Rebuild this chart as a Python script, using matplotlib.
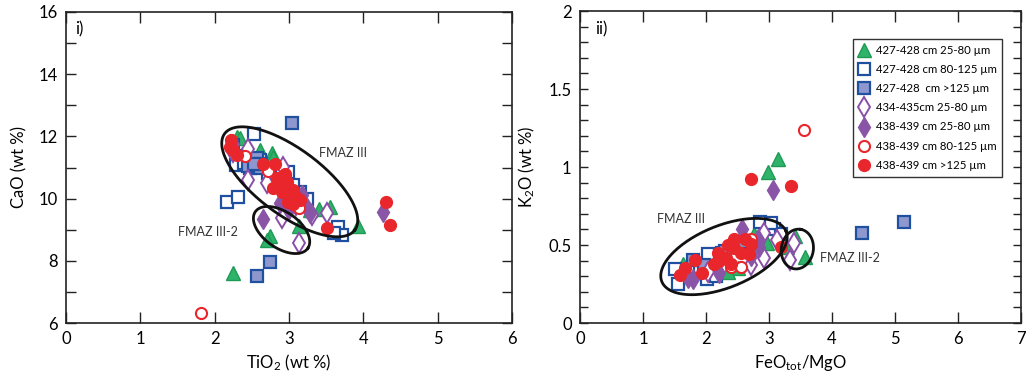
import matplotlib
matplotlib.use("Agg")
import matplotlib.pyplot as plt
import numpy as np
from matplotlib.ticker import FixedLocator, MultipleLocator, FuncFormatter

plt.rcParams['font.family'] = ['Lato', 'DejaVu Sans']
plt.rcParams['mathtext.default'] = 'regular'

# series labels (same order in both panels)
labels = ["427-428 cm 25-80 µm", "427-428 cm 80-125 µm", "427-428  cm >125 µm",
          "434-435cm 25-80 µm", "438-439 cm 25-80 µm", "438-439 cm 80-125 µm",
          "438-439 cm >125 µm"]

# panel i) TiO2 vs CaO
tio2_g = [2.25, 2.74, 2.71, 3.13, 3.93, 3.55, 3.40, 3.28, 2.30, 2.61, 2.77, 2.79, 3.04, 2.72, 3.00, 3.20, 2.34]
cao_g = [7.60, 8.80, 8.68, 9.12, 9.12, 9.72, 9.66, 9.62, 11.99, 11.56, 11.46, 11.33, 10.56, 10.97, 10.10, 10.00, 11.94]
tio2_bo = [2.16, 2.32, 2.53, 3.66, 3.71, 3.60, 2.25, 2.29, 2.42, 2.61, 2.75, 2.99, 3.15, 3.24, 2.40, 3.05, 2.72]
cao_bo = [9.90, 10.06, 12.08, 9.10, 8.83, 8.88, 11.72, 11.08, 11.37, 11.24, 10.76, 10.86, 10.22, 10.00, 11.15, 10.45, 10.81]
tio2_bf = [2.57, 2.75, 3.04, 2.57, 2.48, 2.57, 2.62, 2.45, 2.53]
cao_bf = [7.51, 7.95, 12.44, 11.29, 10.97, 10.97, 11.10, 11.05, 11.12]
tio2_po = [2.90, 3.13, 3.51, 3.31, 2.45, 2.45, 2.25, 2.92, 3.10, 2.70]
cao_po = [9.37, 8.58, 9.53, 9.47, 11.61, 10.60, 11.50, 11.03, 9.80, 10.50]
tio2_pf = [2.65, 4.27, 2.88, 3.24, 3.28, 3.18, 2.24, 3.00]
cao_pf = [9.33, 9.58, 9.85, 9.70, 9.55, 10.10, 11.77, 9.65]
tio2_ro = [1.81, 2.41, 2.72, 3.13, 2.95]
cao_ro = [6.31, 11.37, 10.90, 9.69, 10.80]
tio2_rf = [4.31, 4.36, 3.51, 2.22, 2.21, 2.30, 2.65, 2.81, 2.84, 2.95, 2.79, 2.88, 2.97, 3.06, 3.10,
           2.99, 3.06, 3.15, 3.04, 2.25, 2.90]
cao_rf = [9.88, 9.15, 9.04, 11.88, 11.67, 11.40, 11.10, 11.10, 10.65, 10.76, 10.33, 10.38, 10.54, 10.28, 10.06,
          9.90, 9.84, 9.95, 10.17, 11.55, 10.20]

# panel ii) FeOtot/MgO vs K2O
fm_g = [3.15, 2.99, 3.42, 3.57, 3.28, 1.64, 2.50, 3.00, 2.97, 2.76, 2.35]
k2o_g = [1.05, 0.97, 0.555, 0.42, 0.49, 0.38, 0.35, 0.62, 0.51, 0.57, 0.33]
fm_bo = [1.51, 1.56, 2.01, 2.16, 2.03, 2.86, 3.08, 3.19, 3.03, 2.25, 1.90]
k2o_bo = [0.345, 0.25, 0.28, 0.30, 0.44, 0.645, 0.60, 0.57, 0.64, 0.45, 0.35]
fm_bf = [4.47, 5.14, 1.80, 1.97, 2.30, 2.59]
k2o_bf = [0.58, 0.65, 0.405, 0.37, 0.46, 0.52]
fm_po = [2.92, 3.13, 3.39, 3.34, 2.92, 2.71, 2.03]
k2o_po = [0.58, 0.53, 0.51, 0.405, 0.415, 0.37, 0.33]
fm_pf = [3.06, 2.57, 1.80, 1.72, 2.84, 2.82, 2.71, 2.20]
k2o_pf = [0.855, 0.60, 0.28, 0.29, 0.49, 0.54, 0.43, 0.32]
fm_ro = [3.56, 2.40, 2.71, 2.56]
k2o_ro = [1.24, 0.36, 0.54, 0.36]
fm_rf = [2.71, 3.35, 1.59, 1.67, 1.82, 1.93, 2.13, 2.19, 2.32, 2.45, 2.56, 2.69, 2.40, 2.62, 2.45, 2.71,
         3.19, 2.20, 2.35]
k2o_rf = [0.92, 0.88, 0.31, 0.35, 0.405, 0.32, 0.38, 0.45, 0.415, 0.48, 0.45, 0.44, 0.38, 0.54, 0.54, 0.505,
          0.49, 0.40, 0.50]

# marker styles: (marker, size, face, edge, edge width)
styles = [
    ("^", 9.5, "#2fb36b", "#1f9a55", 1.0),
    ("s", 8.0, "white", "#1f4fa0", 1.6),
    ("s", 8.0, "#8e98cf", "#2050a0", 1.6),
    ("d", 10.0, "white", "#8a4ea8", 1.4),
    ("d", 10.0, "#8a55a6", "#8a55a6", 1.0),
    ("o", 8.0, "white", "#e8262b", 1.5),
    ("o", 8.5, "#e8262b", "#e8262b", 1.0),
]

# ellipses: centre (data), semi axes (px), angle (deg)
ell_i = [(3.01, 10.54, 81, 33, -36.5), (2.90, 8.99, 32, 18, -35)]
ell_ii = [(2.285, 0.426, 67, 31, 22), (3.45, 0.474, 20, 16, 80)]

W, H = 1027, 378
fig = plt.figure(figsize=(W / 100, H / 100), dpi=100)
ax1 = fig.add_axes([66 / W, 1 - 323 / H, 446 / W, 311 / H])
ax2 = fig.add_axes([580 / W, 1 - 323 / H, 441 / W, 312 / H])


def draw_ellipse(ax, cx, cy, a, b, ang):
    x0, x1 = ax.get_xlim()
    y0, y1 = ax.get_ylim()
    pos = ax.get_position()
    sx = pos.width * W / (x1 - x0)
    sy = pos.height * H / (y1 - y0)
    t = np.linspace(0, 2 * np.pi, 200)
    r = np.radians(ang)
    dx = a * np.cos(t) * np.cos(r) - b * np.sin(t) * np.sin(r)
    dy = a * np.cos(t) * np.sin(r) + b * np.sin(t) * np.cos(r)
    ax.plot(cx + dx / sx, cy + dy / sy, color="#111111", lw=2.0, zorder=5)


def style_axes(ax):
    for s in ax.spines.values():
        s.set_linewidth(1.2)
        s.set_color("#222222")
    ax.tick_params(which="both", direction="in", top=True, right=True,
                   color="#222222", width=1.0, labelsize=12, pad=6)


data_i = [(tio2_g, cao_g), (tio2_bo, cao_bo), (tio2_bf, cao_bf), (tio2_po, cao_po),
          (tio2_pf, cao_pf), (tio2_ro, cao_ro), (tio2_rf, cao_rf)]
data_ii = [(fm_g, k2o_g), (fm_bo, k2o_bo), (fm_bf, k2o_bf), (fm_po, k2o_po),
           (fm_pf, k2o_pf), (fm_ro, k2o_ro), (fm_rf, k2o_rf)]

for ax, data in [(ax1, data_i), (ax2, data_ii)]:
    for (xs, ys), (m, ms, fc, ec, ew), lab in zip(data, styles, labels):
        ax.plot(xs, ys, ls="none", marker=m, ms=ms, mfc=fc, mec=ec, mew=ew, label=lab, zorder=3)

# panel i
ax1.set_xlim(0, 6)
ax1.set_ylim(6, 16)
style_axes(ax1)
ax1.xaxis.set_major_locator(MultipleLocator(1))
ax1.yaxis.set_major_locator(MultipleLocator(1))
ax1.yaxis.set_major_formatter(FuncFormatter(lambda v, p: "%d" % v if int(round(v)) % 2 == 0 else ""))
ax1.yaxis.set_minor_locator(FixedLocator([10, 15]))
ax1.tick_params(axis="x", which="major", length=8)
ax1.tick_params(axis="y", which="major", length=7)
ax1.tick_params(axis="y", which="minor", length=16)
ax1.set_xlabel("TiO$_2$ (wt %)", fontsize=12, labelpad=4)
ax1.set_ylabel("CaO (wt %)", fontsize=12, labelpad=8)
ax1.text(0.12, 15.45, "i)", fontsize=12, va="center")
ax1.text(3.40, 11.47, "FMAZ III", fontsize=9, ha="left", va="center", color="#333333")
ax1.text(1.51, 8.93, "FMAZ III-2", fontsize=9, ha="left", va="center", color="#333333")
for e in ell_i:
    draw_ellipse(ax1, *e)

# panel ii
ax2.set_xlim(0, 7)
ax2.set_ylim(0, 2)
style_axes(ax2)
ax2.xaxis.set_major_locator(MultipleLocator(1))
ax2.xaxis.set_minor_locator(FixedLocator([5]))
ax2.yaxis.set_major_locator(MultipleLocator(0.1))
ax2.yaxis.set_major_formatter(FuncFormatter(
    lambda v, p: ("%g" % round(v, 1)) if abs(v * 2 - round(v * 2)) < 1e-6 else ""))
ax2.yaxis.set_minor_locator(FixedLocator([0.5, 1.0, 1.5]))
ax2.tick_params(axis="x", which="major", length=8)
ax2.tick_params(axis="x", which="minor", length=17)
ax2.tick_params(axis="y", which="major", length=6)
ax2.tick_params(axis="y", which="minor", length=12)
ax2.set_xlabel("FeO$_{tot}$/MgO", fontsize=12, labelpad=4)
ax2.set_ylabel("K$_2$O (wt %)", fontsize=12, labelpad=8)
ax2.text(0.24, 1.88, "ii)", fontsize=12, va="center")
ax2.text(1.22, 0.667, "FMAZ III", fontsize=9, ha="left", va="center", color="#333333")
ax2.text(3.81, 0.416, "FMAZ III-2", fontsize=9, ha="left", va="center", color="#333333")
for e in ell_ii:
    draw_ellipse(ax2, *e)

leg = ax2.legend(loc="upper left", bbox_to_anchor=(853 / W, 1 - 39 / H),
                 bbox_transform=fig.transFigure, borderaxespad=0, fontsize=8.2,
                 frameon=True, fancybox=False, edgecolor="#333333", framealpha=1,
                 handlelength=1.0, handletextpad=0.5, labelspacing=0.72,
                 borderpad=0.5, numpoints=1)
leg.get_frame().set_linewidth(1.0)

fig.savefig("out.png", dpi=100)
